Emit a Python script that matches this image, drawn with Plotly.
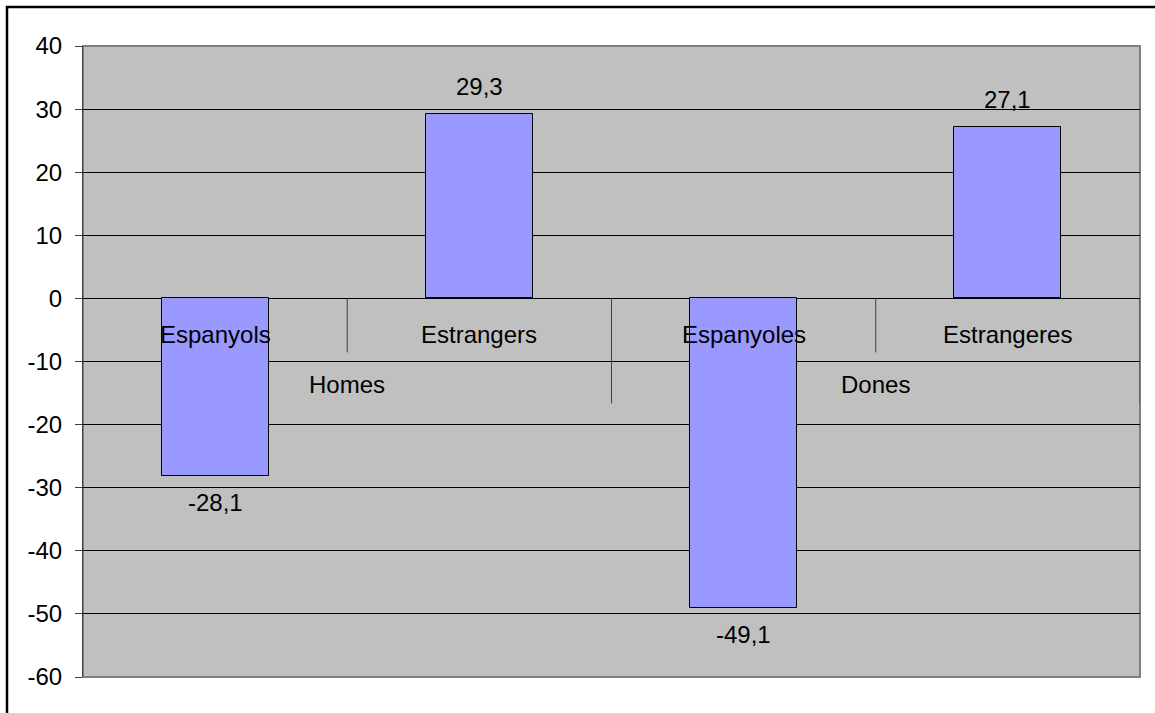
import plotly.graph_objects as go

categories = ["Espanyols", "Estrangers", "Espanyoles", "Estrangeres"]
groups = ["Homes", "Dones"]
values = [-28.1, 29.3, -49.1, 27.1]
y_ticks = [40, 30, 20, 10, 0, -10, -20, -30, -40, -50, -60]

W, H = 1155, 713
L, R, T, B = 83, 15, 46, 36
plot_h = H - T - B
y_min, y_max = -60, 40
px_per_unit = plot_h / (y_max - y_min)
FONT = "Liberation Sans, Arial, sans-serif"
FS = 24

xs = list(range(len(categories)))

fig = go.Figure()
fig.add_trace(go.Bar(
    x=xs, y=values, width=0.405,
    marker=dict(color="#9999FF", line=dict(color="black", width=1)),
    hoverinfo="skip",
))

annotations = []
# data labels
for x, v in zip(xs, values):
    annotations.append(dict(
        x=x, y=v, xref="x", yref="y",
        text=f"{v:.1f}".replace(".", ","),
        showarrow=False, font=dict(family=FONT, size=FS, color="black"),
        yanchor="bottom" if v >= 0 else "top",
        yshift=12 if v >= 0 else -11,
    ))
# category labels
for x, c in zip(xs, categories):
    annotations.append(dict(
        x=x, y=0, xref="x", yref="y", text=c, showarrow=False,
        font=dict(family=FONT, size=FS, color="black"),
        yanchor="middle", yshift=-36,
    ))
# group labels
for gi, g in enumerate(groups):
    annotations.append(dict(
        x=gi * 2 + 0.5, y=0, xref="x", yref="y", text=g, showarrow=False,
        font=dict(family=FONT, size=FS, color="black"),
        yanchor="middle", yshift=-86,
    ))

shapes = []
# plot area border (gray)
shapes.append(dict(type="rect", xref="paper", yref="paper", x0=0, x1=1, y0=0, y1=1,
                   line=dict(color="#808080", width=2), layer="below"))
# category dividers
short_len = 54 / px_per_unit
long_len = 105 / px_per_unit
for i in range(len(categories)):
    xd = i + 0.5
    ln = long_len if i % 2 == 1 else short_len
    shapes.append(dict(type="line", xref="x", yref="y", x0=xd, x1=xd, y0=0, y1=-ln,
                       line=dict(color="#404040", width=1)))
# outer chart border
pw = W - L - R
shapes.append(dict(type="rect", xref="paper", yref="paper",
                   x0=(7 - L) / pw, x1=(W + 10 - L) / pw,
                   y0=-(B + 10) / plot_h, y1=(H - B - 7) / plot_h,
                   line=dict(color="black", width=2.5)))

fig.update_layout(
    width=W, height=H,
    margin=dict(l=L, r=R, t=T, b=B),
    paper_bgcolor="white", plot_bgcolor="#C0C0C0",
    showlegend=False, bargap=0,
    annotations=annotations, shapes=shapes,
    font=dict(family=FONT, size=FS, color="black"),
    xaxis=dict(range=[-0.5, len(categories) - 0.5], showticklabels=False,
               showgrid=False, zeroline=False, showline=False, fixedrange=True),
    yaxis=dict(range=[y_min, y_max], tickvals=y_ticks, ticktext=[str(t) for t in y_ticks],
               showgrid=True, gridcolor="black", gridwidth=1,
               zeroline=True, zerolinecolor="black", zerolinewidth=1,
               showline=True, linecolor="#404040", linewidth=1,
               ticks="outside", ticklen=7, tickcolor="#404040",
               ticklabelstandoff=8,
               tickfont=dict(family=FONT, size=FS, color="black"),
               fixedrange=True),
)

fig.write_html("out.html")
